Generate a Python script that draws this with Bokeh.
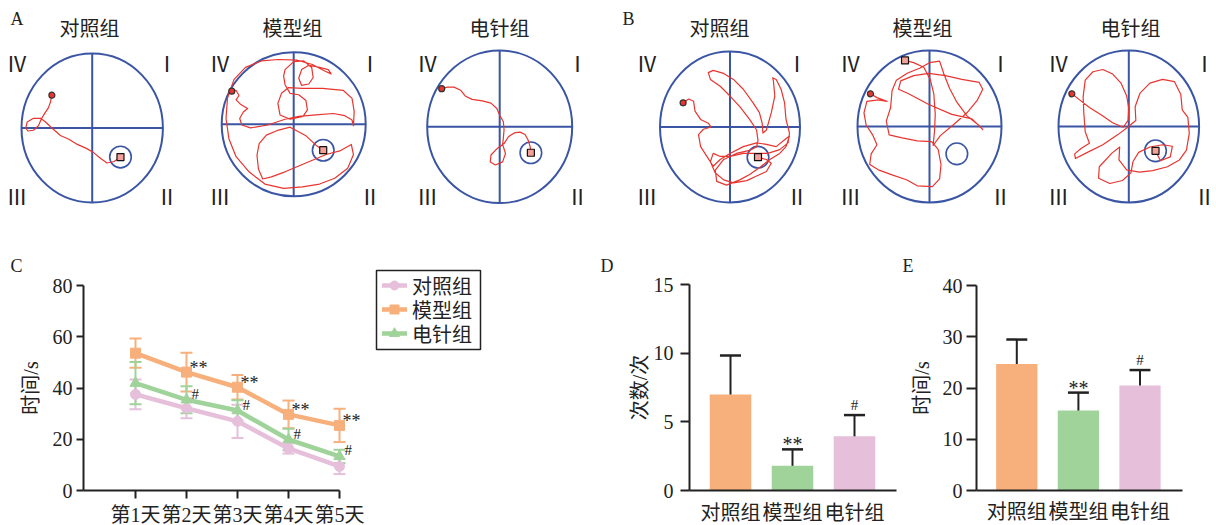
from bokeh.plotting import figure
from bokeh.layouts import row, column
from bokeh.models import Range1d, FixedTicker, Whisker, TeeHead, ColumnDataSource
from bokeh.core.properties import value
from bokeh.embed import file_html
from bokeh.resources import INLINE

CJK = "Noto Sans CJK SC"
SERIF = "Liberation Serif"
MIXED = "Liberation Serif, Noto Sans CJK SC"
BLUE = "#3a55a4"
RED = "#e8352f"
ORANGE = "#f7b07b"
GREEN = "#9fd39a"
PINK = "#e6bfdb"
INK = "#222222"

# ---------------- data ----------------
groups = ["对照组", "模型组", "电针组"]
days = ["第1天", "第2天", "第3天", "第4天", "第5天"]
quadrants = ["Ⅳ", "Ⅰ", "Ⅲ", "Ⅱ"]

# C: escape latency (s), mean and SD
lat_ctrl = [37.5, 32.1, 27.0, 16.4, 9.4]
lat_ctrl_sd = [5.8, 3.9, 6.5, 2.0, 3.0]
lat_model = [53.6, 46.2, 40.3, 29.7, 25.4]
lat_model_sd = [5.7, 7.6, 4.8, 5.4, 6.5]
lat_ea = [41.9, 35.4, 31.2, 19.9, 13.3]
lat_ea_sd = [8.2, 5.3, 4.0, 4.2, 2.6]
sig_model = ["", "**", "**", "**", "**"]
sig_ea = ["", "#", "#", "#", "#"]

# D: platform crossings (times)
cross_mean = [7.0, 1.8, 3.95]
cross_sd = [2.85, 1.2, 1.55]
cross_sig = ["", "**", "#"]

# E: time in target quadrant (s)
quad_mean = [24.7, 15.6, 20.5]
quad_sd = [4.75, 3.5, 3.0]
quad_sig = ["", "**", "#"]

# swim paths, pool coordinates in % of radius (x right, y up)
traj_a1 = [(-57,44),(-59,35),(-62,27),(-67,20),(-72,12),(-76,3),(-83,-3),(-91,-4),(-94,0),(-92,8),
           (-83,13),(-73,13),(-66,8),(-57,0),(-45,-10),(-33,-15),(-21,-22),(-9,-27),(2,-33),(12,-41),
           (21,-47),(31,-45),(40,-39)]
traj_a2 = [(-86,46),(-80,47),(-76,40),(-80,34),(-74,28),(-64,22),(-70,17),(-75,8),(-72,-1),(-60,-5),
           (-36,-1),(-12,7),(7,11),(31,13),(55,15),(71,12),(81,6),(83,-2),(84,18),(81,36),(69,47),
           (40,50),(12,50),(-7,51),(-17,43),(-22,29),(-19,13),(-5,7),(13,11),(19,20),(17,33),(7,41),
           (-5,43),(-12,55),(-14,67),(-12,76),(0,87),(14,88),(25,79),(27,65),(21,56),(11,54),(7,64),
           (11,76),(21,82),(36,79),(48,76),(52,70),(43,74),(26,83),(5,89),(-21,90),(-45,88),(-67,79),
           (-83,62),(-92,36),(-94,8),(-90,-20),(-80,-45),(-62,-66),(-40,-83),(-14,-89),(12,-87),
           (36,-83),(57,-75),(75,-61),(83,-42),(80,-28),(64,-37),(45,-42),(26,-50),(7,-58),(-12,-66),
           (-31,-73),(-43,-76),(-49,-62),(-51,-43),(-48,-27),(-38,-15),(-21,-8),(-5,-4),(17,-16),
           (31,-29),(41,-36)]
traj_a3 = [(-80,50),(-72,52),(-63,52),(-54,48),(-47,40),(-38,36),(-24,34),(-12,31),(-4,24),(0,15),
           (5,7),(6,-4),(5,-15),(4,-23),(8,-35),(4,-46),(-6,-50),(-13,-46),(-12,-37),(-3,-28),(6,-22),
           (12,-13),(20,-8),(28,-7),(35,-10),(39,-17),(42,-26),(43,-34)]
traj_b1 = [(-67,32),(-59,37),(-52,34),(-50,21),(-42,10),(-31,5),(-27,0),(-38,-3),(-45,-10),(-42,-26),
           (-33,-39),(-24,-52),(-14,-43),(0,-35),(19,-26),(38,-21),(52,-23),(66,-26),(78,-17),(85,-12),
           (80,-26),(71,-35),(57,-43),(42,-54),(28,-63),(14,-70),(-5,-77),(-19,-72),(-21,-57),(-9,-43),
           (9,-35),(28,-31),(38,-26),(40,-18),(38,-4),(28,10),(14,27),(0,41),(-14,54),(-28,63),(-31,72),
           (-24,75),(-9,71),(5,63),(19,50),(33,32),(42,19),(46,5),(47,-8),(52,-4),(59,19),(64,41),
           (62,61),(61,65),(66,63),(73,50),(78,32),(80,10),(85,-8),(83,-21),(71,-30),(54,-35),(19,-35),
           (0,-39),(-14,-39),(-24,-35),(-28,-46),(-21,-61),(-9,-70),(5,-74),(24,-71),(38,-65),(52,-59),
           (59,-48),(52,-43),(40,-40)]
traj_b2 = [(-82,43),(-73,38),(-59,33),(-71,35),(-87,33),(-91,18),(-88,2),(-79,-11),(-73,-24),(-81,-36),
           (-83,-50),(-71,-57),(-51,-64),(-32,-70),(-17,-78),(4,-79),(14,-69),(16,-50),(12,-30),(3,-20),
           (-17,-19),(-38,-15),(-56,-11),(-60,7),(-54,25),(-52,47),(-46,61),(-31,70),(-13,77),(0,84),
           (14,86),(20,69),(28,50),(38,32),(52,14),(68,2),(74,-4),(59,10),(31,16),(-1,29),(-29,43),
           (-43,49),(-40,60),(-22,67),(-1,70),(22,67),(45,62),(69,58),(74,49),(66,34),(52,18),(34,3),
           (15,-12),(5,-25),(7,-6),(8,16),(6,43),(1,62),(-8,78),(-22,84),(-34,87)]
traj_b3 = [(-81,43),(-70,35),(-56,25),(-39,15),(-23,5),(-8,-1),(-1,8),(0,24),(-3,40),(-11,57),(-23,69),
           (-37,75),(-51,72),(-62,61),(-65,39),(-64,18),(-62,-7),(-56,-22),(-68,-29),(-77,-36),(-76,-42),
           (-61,-35),(-37,-24),(-16,-11),(-3,-2),(10,8),(9,26),(16,44),(30,57),(48,62),(65,59),(74,42),
           (76,22),(84,12),(86,-9),(82,-31),(72,-44),(55,-53),(34,-58),(15,-60),(-3,-57),(-14,-44),
           (-13,-27),(-24,-35),(-42,-53),(-43,-68),(-27,-75),(-9,-71),(3,-61),(6,-46),(14,-34),(30,-27),
           (48,-24),(62,-26),(59,-40),(45,-45),(38,-32)]
platforms = [(40,-39),(41,-36),(43,-34),(40,-40),(38,-36),(38,-32)]
trajectories = [traj_a1, traj_a2, traj_a3, traj_b1, traj_b2, traj_b3]
panel_titles = groups + groups

# ---------------- layout constants (page pixels) ----------------
PAGE_W = 1215
PAGE_H = 524
TOP_H = 223
pool_cx = [91.7, 293.2, 499.2, 729.5, 929.0, 1128.3]
pool_cy = [127.5, 123.8, 126.3, 126.5, 126.0, 126.0]
pool_rx = [70.7, 72.0, 72.5, 70.0, 72.0, 70.3]
pool_ry = [74.5, 72.0, 76.3, 75.5, 76.0, 76.0]
title_x = [89, 292, 499, 719, 922, 1130]
num_left = [16.5, 219.5, 427, 646.5, 850, 1058]

# ---------------- top row: swim paths ----------------
top = figure(width=PAGE_W, height=TOP_H, x_range=Range1d(0, PAGE_W), y_range=Range1d(TOP_H, 0),
             x_axis_type=None, y_axis_type=None, output_backend="svg", toolbar_location=None,
             min_border=0)
top.outline_line_color = None

for k in range(6):
    cx, cy, rx, ry = pool_cx[k], pool_cy[k], pool_rx[k], pool_ry[k]
    top.ellipse(x=[cx], y=[cy], width=[2 * rx], height=[2 * ry], fill_color=None,
                line_color=BLUE, line_width=2)
    top.segment(x0=[cx - rx, cx], y0=[cy, cy - ry], x1=[cx + rx, cx], y1=[cy, cy + ry],
                line_color=BLUE, line_width=2)
    px, py = platforms[k]
    top.circle(x=[cx + px * rx / 100], y=[cy - py * ry / 100], radius=10.8, fill_color=None,
               line_color=BLUE, line_width=1.6)
    tr = trajectories[k]
    xs = [cx + a * rx / 100 for a, b in tr]
    ys = [cy - b * ry / 100 for a, b in tr]
    top.line(xs, ys, line_color=RED, line_width=1.2, line_join="round")
    top.scatter([xs[0]], [ys[0]], marker="circle", size=6, fill_color=RED, line_color="#333333",
                line_width=1.2)
    top.scatter([xs[-1]], [ys[-1]], marker="square", size=7, fill_color="#f3a09a",
                line_color="#111111", line_width=1.2)
    nl = num_left[k]
    nr = min(nl + 150, PAGE_W - 11)
    top.text(x=[nl, nr, nl, nr], y=[62.5, 62.5, 195.5, 195.5], text=quadrants,
             text_font=value(CJK), text_font_size="21px", text_align="center",
             text_baseline="middle", text_color=INK)

top.text(x=title_x, y=[27] * 6, text=panel_titles, text_font=value(CJK), text_font_size="20px",
         text_align="center", text_baseline="middle", text_color=INK)
top.text(x=[10, 622], y=[18, 18], text=["A", "B"], text_font=value(SERIF), text_font_size="18px",
         text_align="left", text_baseline="middle", text_color=INK)


# ---------------- bottom panels (frame = whole figure, axes at fixed locations) ----------------
BASE_Y = 490  # page y of value 0


def make_panel(fig_left, width, x0_page, ux, uy, yaxis_page, xaxis_end_page, ymax, yticks,
               letter, letter_page):
    h = PAGE_H - TOP_H
    xr = Range1d((fig_left - x0_page) / ux, (fig_left + width - x0_page) / ux)
    yr = Range1d(-(PAGE_H - BASE_Y) / uy, (BASE_Y - TOP_H) / uy)
    p = figure(width=width, height=h, x_range=xr, y_range=yr, output_backend="svg",
               toolbar_location=None, min_border=0)
    p.grid.visible = False
    p.outline_line_color = None
    for ax in p.axis:
        ax.axis_line_color = INK
        ax.axis_line_width = 2
        ax.major_tick_line_color = INK
        ax.major_tick_line_width = 2
        ax.minor_tick_line_color = None
        ax.major_tick_in = 0
        ax.major_label_text_color = INK
        ax.axis_label_text_color = INK
        ax.axis_label_text_font = MIXED
        ax.axis_label_text_font_size = "20px"
        ax.axis_label_text_font_style = "normal"
    yloc = (yaxis_page - x0_page) / ux
    p.yaxis.fixed_location = yloc
    p.xaxis.fixed_location = 0
    p.xaxis.bounds = (yloc, (xaxis_end_page - x0_page) / ux)
    p.yaxis.bounds = (0, ymax)
    p.yaxis.ticker = FixedTicker(ticks=yticks)
    p.yaxis.major_label_text_font = SERIF
    p.yaxis.major_label_text_font_size = "20px"
    p.xaxis.major_label_text_font = MIXED
    p.xaxis.major_label_text_font_size = "20px"
    lx, ly = letter_page
    p.text(x=[(lx - x0_page) / ux], y=[(BASE_Y - ly) / uy], text=[letter], text_font=value(SERIF),
           text_font_size="18px", text_align="left", text_baseline="middle", text_color=INK)
    return p


# ---------------- C: escape latency ----------------
C_X0, C_UX, C_UY = 135, 51.0, 2.5625
pC = make_panel(0, 560, C_X0, C_UX, C_UY, 83, 339, 80, [0, 20, 40, 60, 80], "C", (10, 265))
pC.xaxis.ticker = FixedTicker(ticks=list(range(len(days))))
pC.xaxis.major_label_overrides = {i: d for i, d in enumerate(days)}
pC.yaxis.axis_label = "时间/s"
pC.yaxis.major_tick_out = 7
pC.yaxis.major_label_standoff = 4
pC.yaxis.axis_label_standoff = 8
pC.xaxis.major_tick_out = 8
pC.xaxis.major_label_standoff = 5


def cxp(px):
    return (px - C_X0) / C_UX


def cyp(py):
    return (BASE_Y - py) / C_UY


xd = list(range(len(days)))
series = [("对照组", lat_ctrl, lat_ctrl_sd, PINK, "circle", 10),
          ("模型组", lat_model, lat_model_sd, ORANGE, "square", 10),
          ("电针组", lat_ea, lat_ea_sd, GREEN, "triangle", 11)]
for name, m, s, col, mk, sz in series:
    src = ColumnDataSource(dict(x=xd, lo=[a - b for a, b in zip(m, s)], hi=[a + b for a, b in zip(m, s)]))
    pC.add_layout(Whisker(base="x", lower="lo", upper="hi", source=src, dimension="height",
                          line_color=col, line_width=2,
                          upper_head=TeeHead(size=12, line_color=col, line_width=2),
                          lower_head=TeeHead(size=12, line_color=col, line_width=2)))
for name, m, s, col, mk, sz in [series[0], series[2], series[1]]:
    pC.line(xd, m, line_color=col, line_width=4.5)
    pC.scatter(xd, m, marker=mk, size=sz, fill_color=col, line_color=col)

pC.text(x=xd, y=lat_model, text=sig_model, x_offset=3, y_offset=-4, text_font=value(SERIF),
        text_font_size="18px", text_align="left", text_baseline="middle", text_color=INK)
pC.text(x=xd, y=lat_ea, text=sig_ea, x_offset=5, y_offset=-6, text_font=value(SERIF),
        text_font_size="15px", text_align="left", text_baseline="middle", text_color=INK)

# legend box (drawn in the panel's own coordinates)
pC.quad(left=[cxp(376)], right=[cxp(480)], top=[cyp(270)], bottom=[cyp(349)],
        fill_color="white", line_color=INK, line_width=1.5)
for i, (name, m, s, col, mk, sz) in enumerate(series):
    ly = cyp(285 + 24 * i)
    pC.segment(x0=[cxp(381.5)], y0=[ly], x1=[cxp(406.5)], y1=[ly], line_color=col, line_width=4.5)
    pC.scatter([cxp(394)], [ly], marker=mk, size=sz - 1, fill_color=col, line_color=col)
    pC.text(x=[cxp(411.5)], y=[ly], text=[name], text_font=value(CJK), text_font_size="20px",
            text_align="left", text_baseline="middle", text_color=INK)

# ---------------- D & E: bar charts ----------------
bar_colors = [ORANGE, GREEN, PINK]
xg = list(range(len(groups)))


def bar_panel(fig_left, width, x0_page, ux, uy, yaxis_page, xaxis_end_page, ymax, yticks,
              means, sds, sigs, letter, letter_page, label, tick_out, lab_stand, ax_stand, x_stand):
    p = make_panel(fig_left, width, x0_page, ux, uy, yaxis_page, xaxis_end_page, ymax, yticks,
                   letter, letter_page)
    p.xaxis.ticker = FixedTicker(ticks=xg)
    p.xaxis.major_label_overrides = {i: g for i, g in enumerate(groups)}
    p.xaxis.major_tick_out = 0
    p.xaxis.major_label_standoff = x_stand
    p.yaxis.axis_label = label
    p.yaxis.major_tick_out = tick_out
    p.yaxis.major_label_standoff = lab_stand
    p.yaxis.axis_label_standoff = ax_stand
    p.vbar(x=xg, top=means, width=0.67, bottom=0, fill_color=bar_colors, line_color=None)
    tops = [a + b for a, b in zip(means, sds)]
    p.segment(x0=xg, y0=means, x1=xg, y1=tops, line_color=INK, line_width=2)
    p.segment(x0=[x - 0.17 for x in xg], y0=tops, x1=[x + 0.17 for x in xg], y1=tops,
              line_color=INK, line_width=2.5)
    stars = [t if t == "**" else "" for t in sigs]
    hashes = [t if t == "#" else "" for t in sigs]
    p.text(x=xg, y=tops, text=stars, y_offset=-5, text_font=value(SERIF), text_font_size="20px",
           text_align="center", text_baseline="middle", text_color=INK)
    p.text(x=xg, y=tops, text=hashes, y_offset=-10, text_font=value(SERIF), text_font_size="15px",
           text_align="center", text_baseline="middle", text_color=INK)
    return p


pD = bar_panel(560, 340, 730, 62.0, 13.713, 689, 896, 15, [0, 5, 10, 15], cross_mean, cross_sd,
               cross_sig, "D", (600, 265), "次数/次", 9, 7, 0, 11)
pE = bar_panel(900, PAGE_W - 900, 1016.3, 61.6, 5.125, 976, 1181.7, 40, [0, 10, 20, 30, 40],
               quad_mean, quad_sd, quad_sig, "E", (902, 265), "时间/s", 10, 4, 7, 10)

layout = column(top, row(pC, pD, pE, spacing=0), spacing=0)
open("out.html", "w").write(file_html(layout, INLINE))
